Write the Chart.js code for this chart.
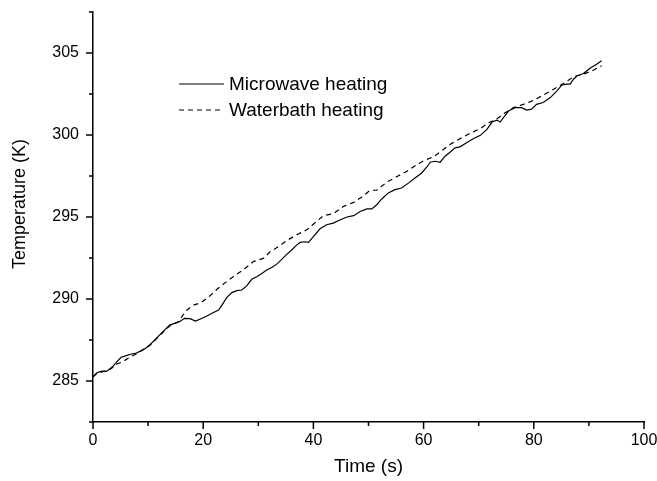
<!DOCTYPE html>
<html>
<head>
<meta charset="utf-8">
<title>Temperature vs time</title>
<script src="https://cdn.jsdelivr.net/npm/chart.js@4/dist/chart.umd.min.js"></script>
<style>
  html, body { margin: 0; padding: 0; background: #fff; }
  canvas { display: block; }
</style>
</head>
<body>
<canvas id="chart" width="657" height="481"></canvas>
<script>
// --- data ---
const mwTime = [0, 0.7, 1.6, 2.5, 3.5, 4.4, 5.1, 5.9, 6.8, 7.7, 8.6, 9.5, 10.4, 11.3, 12.2, 13.1, 13.9, 14.8, 15.7, 16.6,
  17.6, 18.6, 19.5, 20.5, 21.5, 22.8, 23.4, 24.3, 25.2, 26.1, 27.0, 27.9, 28.8, 29.8, 30.7, 31.6, 32.5, 33.4, 34.3, 35.2,
  36.1, 37.0, 37.6, 38.5, 39.1, 40.0, 41.2, 42.4, 43.6, 44.9, 46.1, 47.3, 48.5, 49.7, 50.6, 51.5, 52.4, 53.6, 54.8, 56.0,
  57.3, 58.5, 59.6, 60.6, 61.2, 62.1, 63.0, 63.9, 64.8, 65.7, 66.6, 67.8, 69.0, 70.3, 71.5, 72.4, 73.3, 73.9, 74.8, 75.4,
  76.6, 77.8, 78.7, 79.6, 80.5, 81.7, 83.0, 84.2, 85.1, 86.0, 86.6, 87.2, 87.8, 89.0, 90.2, 91.4, 92.3];
const mwTemp = [285.25, 285.5, 285.6, 285.6, 285.85, 286.2, 286.45, 286.53, 286.63, 286.68, 286.82, 286.98, 287.23, 287.53,
  287.84, 288.15, 288.41, 288.51, 288.61, 288.82, 288.8, 288.65, 288.78, 288.93, 289.12, 289.33, 289.63, 290.1, 290.39,
  290.51, 290.55, 290.8, 291.2, 291.37, 291.57, 291.78, 291.94, 292.14, 292.43, 292.74, 293.0, 293.3, 293.45, 293.49,
  293.45, 293.8, 294.28, 294.53, 294.63, 294.83, 295.0, 295.08, 295.34, 295.49, 295.49, 295.75, 296.1, 296.47, 296.67,
  296.77, 297.08, 297.39, 297.67, 298.05, 298.34, 298.4, 298.34, 298.71, 298.95, 299.22, 299.28, 299.53, 299.77, 299.98,
  300.34, 300.79, 300.91, 300.79, 301.2, 301.46, 301.67, 301.67, 301.52, 301.58, 301.87, 301.98, 302.28, 302.69, 303.05,
  303.1, 303.1, 303.4, 303.6, 303.75, 304.07, 304.32, 304.52];

const wbTime = [0, 0.7, 1.6, 2.5, 3.5, 4.4, 5.3, 6.8, 7.7, 8.6, 9.5, 10.4, 11.3, 12.2, 13.1, 13.9, 14.8, 15.7, 16.1, 17.05,
  18.25, 19.5, 21.0, 22.5, 24.0, 25.5, 27.3, 29.1, 31.0, 32.2, 33.7, 35.2, 37.0, 38.8, 40.3, 41.8, 43.6, 45.5, 47.3, 49.1,
  50.3, 51.5, 53.3, 55.1, 57.0, 58.8, 60.1, 61.8, 63.6, 65.1, 66.6, 68.4, 70.3, 71.8, 73.0, 74.8, 76.3, 78.1, 79.9, 82.0,
  83.6, 85.4, 87.2, 89.0, 90.8, 92.3];
const wbTemp = [285.25, 285.45, 285.55, 285.6, 285.8, 286.05, 286.16, 286.47, 286.62, 286.82, 286.98, 287.2, 287.5, 287.8,
  288.1, 288.35, 288.5, 288.65, 288.92, 289.33, 289.63, 289.76, 290.12, 290.59, 291.0, 291.37, 291.78, 292.28, 292.49,
  292.9, 293.2, 293.57, 293.92, 294.22, 294.65, 295.08, 295.2, 295.65, 295.89, 296.3, 296.63, 296.63, 297.12, 297.45,
  297.79, 298.2, 298.45, 298.67, 299.12, 299.49, 299.77, 300.1, 300.39, 300.75, 300.91, 301.36, 301.67, 301.87, 302.1,
  302.49, 302.79, 303.14, 303.55, 303.71, 303.95, 304.22];

// axis ticks
const xTicks = [0, 20, 40, 60, 80, 100];
const xMinor = [10, 30, 50, 70, 90];
const yTicks = [285, 290, 295, 300, 305];
const yMinor = [282.5, 287.5, 292.5, 297.5, 302.5, 307.5];

const FONT = "'Liberation Sans', Arial, Helvetica, sans-serif";
const toPoints = (xs, ys) => xs.map((x, i) => ({ x, y: ys[i] }));

// tick marks, axis titles and the in-plot legend
const decor = {
  id: "decor",
  afterDraw(chart) {
    const { ctx, scales: { x, y }, chartArea: a } = chart;
    ctx.save();
    ctx.strokeStyle = "#000";
    ctx.lineWidth = 1.5;
    ctx.beginPath();
    for (const v of xTicks) { const px = x.getPixelForValue(v); ctx.moveTo(px, a.bottom); ctx.lineTo(px, a.bottom + 7); }
    for (const v of xMinor) { const px = x.getPixelForValue(v); ctx.moveTo(px, a.bottom); ctx.lineTo(px, a.bottom + 4); }
    for (const v of yTicks) { const py = y.getPixelForValue(v); ctx.moveTo(a.left, py); ctx.lineTo(a.left - 7, py); }
    for (const v of yMinor) { const py = y.getPixelForValue(v); ctx.moveTo(a.left, py); ctx.lineTo(a.left - 4, py); }
    ctx.stroke();

    // axis titles
    ctx.fillStyle = "#000";
    ctx.textAlign = "center";
    ctx.textBaseline = "middle";
    ctx.font = `19px ${FONT}`;
    ctx.fillText("Time (s)", (a.left + a.right) / 2, 467);
    ctx.save();
    ctx.translate(20, 204);
    ctx.rotate(-Math.PI / 2);
    ctx.font = `18px ${FONT}`;
    ctx.fillText("Temperature (K)", 0, 0);
    ctx.restore();

    // legend
    ctx.textAlign = "left";
    ctx.font = `19px ${FONT}`;
    chart.data.datasets.forEach((ds, i) => {
      const cy = 84 + i * 26;
      ctx.lineWidth = 1.2;
      ctx.setLineDash(ds.borderDash || []);
      ctx.beginPath();
      ctx.moveTo(179, cy);
      ctx.lineTo(224, cy);
      ctx.stroke();
      ctx.setLineDash([]);
      ctx.fillText(ds.label, 229, cy + 1);
    });
    ctx.restore();
  },
};

new Chart(document.getElementById("chart"), {
  type: "line",
  data: {
    datasets: [
      { label: "Microwave heating", data: toPoints(mwTime, mwTemp), borderColor: "#000", borderWidth: 1.2, pointRadius: 0, tension: 0 },
      { label: "Waterbath heating", data: toPoints(wbTime, wbTemp), borderColor: "#000", borderWidth: 1.2, borderDash: [5, 4], pointRadius: 0, tension: 0 },
    ],
  },
  options: {
    responsive: false,
    animation: false,
    layout: { padding: { top: 12, right: 13, left: 0, bottom: 0 } },
    plugins: { legend: { display: false }, tooltip: { enabled: false } },
    scales: {
      x: {
        type: "linear",
        min: 0,
        max: 100,
        afterBuildTicks: (s) => { s.ticks = xTicks.map((value) => ({ value })); },
        afterFit: (s) => { s.height = 59; s.paddingLeft = 0; s.paddingRight = 0; },
        grid: { display: false, drawTicks: false },
        border: { display: true, color: "#000", width: 1.5 },
        ticks: { color: "#000", font: { family: FONT, size: 16 }, padding: 9, maxRotation: 0 },
      },
      y: {
        type: "linear",
        min: 282.5,
        max: 307.5,
        afterBuildTicks: (s) => { s.ticks = yTicks.map((value) => ({ value })); },
        afterFit: (s) => { s.width = 93; s.paddingTop = 0; s.paddingBottom = 0; },
        grid: { display: false, drawTicks: false },
        border: { display: true, color: "#000", width: 1.5 },
        ticks: { color: "#000", font: { family: FONT, size: 16 }, padding: 14 },
      },
    },
  },
  plugins: [decor],
});
</script>
</body>
</html>
